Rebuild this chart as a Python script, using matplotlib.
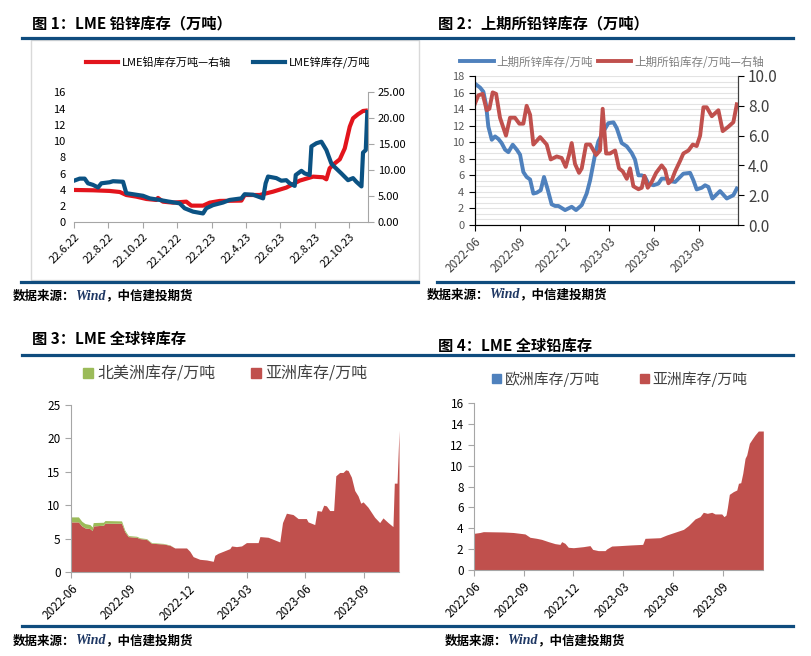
import numpy as np
import matplotlib
matplotlib.use('Agg')
import matplotlib.pyplot as plt
from matplotlib.patches import Rectangle, Patch
from matplotlib.lines import Line2D
from matplotlib.text import Annotation

plt.rcParams['font.family'] = ['Noto Sans CJK SC', 'DejaVu Sans']

C_BAR = '#0F4C7E'
C_RED1 = '#E2141C'; C_BLUE1 = '#0B5283'
C_RED = '#C0504D'; C_BLUE = '#4F81BD'; C_GREEN = '#9BBB59'
C_AX = '#A6A6A6'

# ---- 图1: LME 铅锌库存 (x in months from 22.6.22) ----
p1_lead_m = [0.0, 1.10, 2.07, 2.66, 3.04, 3.62, 4.21, 4.79, 4.88, 5.17, 5.76, 6.53, 6.82, 7.50,
             7.89, 8.47, 9.73, 9.92, 10.79, 11.57, 12.34, 13.12, 13.90, 14.48, 14.67, 14.86,
             15.16, 15.45, 15.74, 16.03, 16.22, 16.51, 16.80, 16.96]
p1_lead = [3.98, 3.94, 3.86, 3.73, 3.36, 3.16, 2.87, 2.75, 3.0, 2.54, 2.42, 2.54, 2.05, 2.05,
           2.42, 2.63, 2.67, 3.36, 3.36, 3.77, 4.27, 5.13, 5.62, 5.54, 5.29, 6.65,
           7.26, 7.75, 9.1, 11.77, 12.8, 13.3, 13.7, 13.74]
p1_zinc_m = [0.0, 0.33, 0.62, 0.81, 1.10, 1.40, 1.59, 2.07, 2.27, 2.85, 3.04, 3.62, 4.01, 4.40,
             4.98, 5.47, 6.14, 6.43, 6.92, 7.50, 7.69, 8.08, 8.66, 9.05, 9.73, 9.92, 10.41,
             10.99, 11.14, 11.28, 11.76, 12.05, 12.34, 12.54, 12.83, 12.89, 13.22, 13.41, 13.70,
             13.80, 14.09, 14.38, 14.67, 14.96, 15.16, 15.54, 15.93, 16.22, 16.41, 16.71, 16.80,
             16.96, 17.05]
p1_zinc = [8.0, 8.4, 8.4, 7.5, 7.2, 6.7, 7.5, 7.7, 7.9, 7.8, 5.6, 5.3, 5.1, 4.6,
           4.3, 4.0, 3.65, 2.7, 2.05, 1.7, 2.7, 3.3, 3.8, 4.3, 4.6, 5.4, 5.3,
           4.6, 7.5, 8.8, 8.5, 8.0, 8.1, 7.5, 7.0, 9.1, 9.9, 9.4, 9.1,
           14.6, 15.2, 15.5, 13.9, 11.3, 10.6, 9.4, 8.1, 8.5, 7.8, 6.9, 13.4,
           13.9, 21.2]
p1_ticks = ['22.6.22', '22.8.22', '22.10.22', '22.12.22', '22.2.23', '22.4.23',
            '22.6.23', '22.8.23', '22.10.23']

# ---- 图2: 上期所铅锌库存 (x in months from 2022-06) ----
p2_zinc_m = [0.00, 0.36, 0.58, 0.76, 0.91, 1.14, 1.36, 1.58, 1.80, 2.03, 2.25, 2.54, 2.81, 3.03,
             3.25, 3.47, 3.70, 3.92, 4.14, 4.41, 4.63, 4.86, 5.14, 5.37, 5.59, 6.04, 6.48, 6.77,
             7.15, 7.48, 7.71, 8.04, 8.26, 8.60, 8.93, 9.27, 9.49, 9.82, 10.16, 10.49, 10.71,
             10.94, 11.16, 11.38, 11.60, 11.94, 12.27, 12.49, 12.83, 13.05, 13.39, 13.61, 13.94,
             14.39, 14.61, 14.83, 15.17, 15.39, 15.61, 15.88, 16.39, 16.84, 17.28, 17.51]
p2_zinc = [17.1, 16.6, 16.1, 14.5, 11.9, 10.3, 10.7, 10.4, 9.9, 9.1, 8.8, 9.7, 9.1, 8.5,
           6.4, 5.8, 5.5, 3.8, 3.9, 4.2, 5.8, 4.4, 2.5, 2.3, 2.3, 1.8, 2.2, 1.8,
           2.4, 3.8, 5.4, 8.5, 10.1, 11.3, 12.3, 12.4, 11.7, 9.9, 9.5, 8.7, 7.9,
           6.0, 6.0, 5.8, 5.0, 4.8, 5.0, 5.6, 5.6, 5.3, 5.2, 5.6, 6.2,
           6.3, 5.4, 4.3, 4.5, 4.8, 4.6, 3.2, 4.1, 3.2, 3.6, 4.4]
p2_lead_m = [0.00, 0.24, 0.53, 0.80, 0.98, 1.20, 1.43, 1.69, 2.09, 2.36, 2.69, 2.98, 3.25, 3.47,
             3.70, 3.92, 4.37, 4.81, 5.08, 5.48, 5.81, 6.08, 6.30, 6.48, 6.70, 6.97, 7.15, 7.44,
             7.71, 8.11, 8.37, 8.55, 8.78, 9.04, 9.38, 9.64, 9.89, 10.16, 10.38, 10.60, 10.94,
             11.16, 11.34, 11.56, 11.83, 12.12, 12.49, 12.72, 12.94, 13.16, 13.39, 13.72, 13.94,
             14.28, 14.57, 14.83, 15.06, 15.28, 15.50, 15.84, 16.28, 16.57, 16.95, 17.28, 17.51]
p2_lead = [8.1, 8.7, 8.8, 7.7, 7.8, 8.9, 8.8, 7.2, 6.0, 7.2, 7.2, 6.8, 6.8, 8.0,
           7.4, 5.4, 5.9, 5.4, 4.4, 4.6, 4.5, 3.9, 4.7, 5.5, 4.1, 3.5, 3.8, 5.4,
           5.4, 4.7, 5.0, 7.8, 4.8, 4.8, 5.0, 3.8, 3.6, 3.1, 3.8, 2.6, 2.4,
           2.5, 3.3, 2.5, 2.9, 3.5, 4.0, 3.7, 2.8, 3.0, 3.6, 4.3, 4.8,
           5.0, 5.4, 5.3, 6.0, 7.9, 7.9, 7.3, 7.7, 6.3, 6.6, 6.9, 8.1]
date_ticks = ['2022-06', '2022-09', '2022-12', '2023-03', '2023-06', '2023-09']

# ---- 图3: LME 全球锌库存 ----
p3_m = [0.00, 0.38, 0.55, 0.72, 0.97, 1.09, 1.14, 1.66, 1.74, 2.59, 2.76, 2.94, 3.36, 3.53,
        3.87, 4.13, 4.73, 5.07, 5.32, 5.92, 6.09, 6.26, 6.60, 6.95, 7.29, 7.37, 7.54, 7.80,
        8.14, 8.23, 8.48, 8.74, 8.99, 9.59, 9.68, 10.10, 10.70, 10.84, 11.04, 11.38, 11.64,
        12.06, 12.15, 12.49, 12.61, 12.83, 12.95, 13.09, 13.26, 13.46, 13.57, 13.77, 13.94,
        14.08, 14.20, 14.37, 14.54, 14.71, 14.85, 14.97, 15.22, 15.56, 15.82, 15.99, 16.25,
        16.50, 16.57, 16.71, 16.81]
p3_asia = [7.5, 7.5, 6.9, 6.6, 6.5, 6.2, 6.9, 7.0, 7.3, 7.3, 6.0, 5.3, 5.2, 5.0,
           4.9, 4.3, 4.2, 4.0, 3.6, 3.6, 3.1, 2.3, 1.9, 1.8, 1.6, 2.5, 2.8, 3.1,
           3.5, 3.9, 3.8, 3.9, 4.4, 4.4, 5.3, 5.2, 4.5, 7.4, 8.8, 8.6, 8.0,
           8.0, 7.5, 7.1, 9.2, 9.1, 10.0, 9.9, 9.2, 9.2, 14.4, 14.9, 14.9,
           15.3, 15.2, 14.2, 12.2, 11.4, 10.3, 10.5, 9.7, 8.2, 7.4, 8.1, 7.4,
           6.8, 13.3, 13.3, 21.2]
p3_namerica = [0.75, 0.75, 0.7, 0.65, 0.6, 0.55, 0.5, 0.45, 0.4, 0.35, 0.25, 0.15, 0.15, 0.12,
               0.1, 0.1, 0.08, 0.05] + [0.0] * 51

# ---- 图4: LME 全球铅库存 ----
p4_m = [0.00, 0.36, 0.56, 1.77, 2.37, 2.78, 3.08, 3.38, 3.78, 4.08, 4.49, 4.89, 5.19, 5.29,
        5.49, 5.69, 6.00, 6.60, 7.00, 7.16, 7.50, 7.91, 8.01, 8.31, 8.81, 9.42, 10.18, 10.32,
        11.23, 11.63, 12.23, 12.64, 12.94, 13.34, 13.64, 13.84, 14.08, 14.35, 14.55, 14.95,
        15.09, 15.21, 15.29, 15.41, 15.65, 15.86, 15.96, 16.10, 16.22, 16.36, 16.46, 16.62,
        16.82, 16.96, 17.16, 17.46]
p4_asia = [3.52, 3.6, 3.68, 3.65, 3.6, 3.52, 3.46, 3.14, 3.04, 2.94, 2.72, 2.53, 2.46, 2.72,
           2.56, 2.18, 2.14, 2.24, 2.34, 1.98, 1.86, 1.86, 2.02, 2.3, 2.34, 2.4, 2.46, 3.04,
           3.1, 3.36, 3.68, 3.9, 4.26, 4.9, 5.12, 5.54, 5.44, 5.54, 5.38, 5.38,
           5.12, 5.28, 5.98, 7.26, 7.52, 7.68, 8.32, 8.38, 9.28, 10.72, 11.04, 12.16,
           12.64, 12.96, 13.34, 13.34]
p4_europe = [0.0] * 56

W, H = 812, 656
fig = plt.figure(figsize=(W / 100, H / 100), dpi=100)
fig.patch.set_facecolor('white')


def fx(x): return x / W
def fy(y): return 1 - y / H


def box(l, t, r, b):
    return fig.add_axes([fx(l), fy(b), (r - l) / W, (b - t) / H])


def hline(y, x0, x1):
    fig.add_artist(Line2D([fx(x0), fx(x1)], [fy(y), fy(y)], color=C_BAR, lw=2.3))


def source(x, y):
    # "数据来源：Wind，中信建投期货", Wind in a serif face, pieces chained end to end
    t1 = fig.text(fx(x), fy(y), '数据来源：', fontsize=9, fontweight='bold', va='center')
    t2 = fig.add_artist(Annotation('Wind', xy=(1, 0.5), xycoords=t1, va='center', ha='left',
                                   fontsize=10, fontweight='bold', style='italic',
                                   family='Liberation Serif', color='#1F3864'))
    fig.add_artist(Annotation('，中信建投期货', xy=(1, 0.5), xycoords=t2, va='center',
                              ha='left', fontsize=9, fontweight='bold'))


# frame lines and titles
hline(38, 22, 793)
hline(282, 21, 418)
hline(282, 437, 793)
hline(355, 22, 793)
hline(626, 22, 793)
fig.add_artist(Rectangle((fx(31.5), fy(280)), (419 - 31.5) / W, (280 - 40) / H,
                         transform=fig.transFigure, fill=False, ec='#D9D9D9', lw=1))

fig.text(fx(32), fy(23), '图 1：LME 铅锌库存（万吨）', fontsize=11, fontweight='bold', va='center')
fig.text(fx(438), fy(23), '图 2：上期所铅锌库存（万吨）', fontsize=11, fontweight='bold', va='center')
fig.text(fx(32), fy(339), '图 3：LME 全球锌库存', fontsize=11, fontweight='bold', va='center')
fig.text(fx(438), fy(346), '图 4：LME 全球铅库存', fontsize=11, fontweight='bold', va='center')

# ---- panel 1 ----
ax1 = box(74, 92.3, 368, 222.3)
l_lead, = ax1.plot(p1_lead_m, p1_lead, color=C_RED1, lw=3)
ax1.set_xlim(0, 17.09)
ax1.set_ylim(0, 16)
ax1.set_yticks(range(0, 17, 2))
ax1.set_xticks(range(0, 17, 2))
ax1.set_xticklabels(p1_ticks, rotation=45, ha='right', rotation_mode='anchor')
for s in ['top', 'right', 'left']:
    ax1.spines[s].set_visible(False)
ax1.spines['bottom'].set_color(C_AX)
ax1.tick_params(axis='y', length=0, labelsize=8, pad=6)
ax1.tick_params(axis='x', length=4, color=C_AX, labelsize=8, pad=3)
ax1r = ax1.twinx()
l_zinc, = ax1r.plot(p1_zinc_m, p1_zinc, color=C_BLUE1, lw=3)
ax1r.set_ylim(0, 25)
ax1r.set_yticks(range(0, 26, 5))
ax1r.set_yticklabels([f'{v:.2f}' for v in range(0, 26, 5)])
for s in ['top', 'left', 'bottom']:
    ax1r.spines[s].set_visible(False)
ax1r.spines['right'].set_color(C_AX)
ax1r.tick_params(axis='y', length=4, color=C_AX, labelsize=8, pad=3)
fig.legend([l_lead, l_zinc], ['LME铅库存万吨—右轴', 'LME锌库存/万吨'], loc='center',
           bbox_to_anchor=(fx(228), fy(62)), ncol=2, frameon=False, fontsize=8,
           handlelength=2.9, handletextpad=0.3, columnspacing=2.0, borderpad=0)

# ---- panel 2 ----
ax2 = box(474.7, 76, 737.7, 225)
l2z, = ax2.plot(p2_zinc_m, p2_zinc, color=C_BLUE, lw=2.8, zorder=3)
ax2.set_xlim(0, 17.57)
ax2.set_ylim(0, 18)
ax2.set_yticks(range(0, 19, 2))
ax2.set_yticks(np.arange(0, 18.01, 2 / 3), minor=True)
ax2.grid(which='both', axis='y', color='#E3E3E3', lw=0.8)
ax2.set_axisbelow(True)
ax2.set_xticks(range(0, 16, 3))
ax2.set_xticklabels(date_ticks, rotation=45, ha='right', rotation_mode='anchor')
ax2.spines['top'].set_visible(False)
for s in ['left', 'bottom', 'right']:
    ax2.spines[s].set_color('#404040')
ax2.tick_params(which='minor', length=0)
ax2.tick_params(axis='y', length=4, labelsize=8, labelcolor='#595959')
ax2.tick_params(axis='x', length=4, labelsize=8.5, labelcolor='#404040', pad=3)
ax2r = ax2.twinx()
l2l, = ax2r.plot(p2_lead_m, p2_lead, color=C_RED, lw=2.8)
ax2r.set_ylim(0, 10)
ax2r.set_yticks(range(0, 11, 2))
ax2r.set_yticklabels([f'{v:.1f}' for v in range(0, 11, 2)])
ax2r.spines['top'].set_visible(False)
ax2r.spines['right'].set_color('#404040')
ax2r.tick_params(axis='y', length=4, labelsize=11, labelcolor='#404040')
fig.legend([l2z, l2l], ['上期所锌库存/万吨', '上期所铅库存/万吨—右轴'], loc='center',
           bbox_to_anchor=(fx(612), fy(62)), ncol=2, frameon=False, fontsize=8.3,
           labelcolor='#808080', handlelength=2.9, handletextpad=0.25,
           columnspacing=0.4, borderpad=0)

# ---- panel 3 ----
ax3 = box(71, 405, 399, 572)
asia3 = np.array(p3_asia); na3 = np.array(p3_namerica)
ax3.fill_between(p3_m, 0, asia3, color=C_RED, lw=0)
ax3.fill_between(p3_m, asia3, asia3 + na3, color=C_GREEN, lw=0)
ax3.set_xlim(0, 16.81)
ax3.set_ylim(0, 25)
ax3.set_yticks(range(0, 26, 5))
ax3.set_xticks(range(0, 16, 3))
ax3.set_xticklabels(date_ticks, rotation=45, ha='right', rotation_mode='anchor')
for s in ['top', 'right']:
    ax3.spines[s].set_visible(False)
for s in ['left', 'bottom']:
    ax3.spines[s].set_color(C_AX)
ax3.tick_params(length=4, color=C_AX, labelsize=8.5)
fig.legend([Patch(color=C_GREEN), Patch(color=C_RED)], ['北美洲库存/万吨', '亚洲库存/万吨'],
           loc='center', bbox_to_anchor=(fx(225), fy(374)), ncol=2, frameon=False,
           fontsize=11.5, labelcolor='#404040', handlelength=0.65, handleheight=0.65,
           handletextpad=0.25, columnspacing=2.2, borderpad=0)

# ---- panel 4 ----
ax4 = box(474, 403.3, 763.3, 570)
asia4 = np.array(p4_asia); eu4 = np.array(p4_europe)
ax4.fill_between(p4_m, 0, asia4, color=C_RED, lw=0)
ax4.fill_between(p4_m, asia4, asia4 + eu4, color=C_BLUE, lw=0)
ax4.set_xlim(0, 17.46)
ax4.set_ylim(0, 16)
ax4.set_yticks(range(0, 17, 2))
ax4.set_xticks(range(0, 16, 3))
ax4.set_xticklabels(date_ticks, rotation=45, ha='right', rotation_mode='anchor')
for s in ['top', 'right']:
    ax4.spines[s].set_visible(False)
for s in ['left', 'bottom']:
    ax4.spines[s].set_color(C_AX)
ax4.tick_params(length=4, color=C_AX, labelsize=8.5)
fig.legend([Patch(color=C_BLUE), Patch(color=C_RED)], ['欧洲库存/万吨', '亚洲库存/万吨'],
           loc='center', bbox_to_anchor=(fx(620), fy(379)), ncol=2, frameon=False,
           fontsize=10.7, labelcolor='#404040', handlelength=0.6, handleheight=0.6,
           handletextpad=0.25, columnspacing=2.7, borderpad=0)

# sources
source(13, 296)
source(427, 295)
source(13, 641)
source(445, 641)

fig.savefig('out.png', dpi=100, facecolor='white')
